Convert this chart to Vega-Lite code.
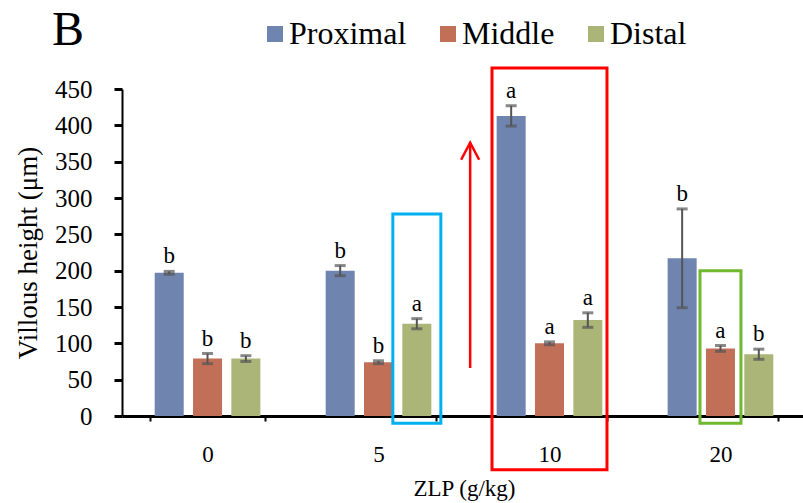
{
  "$schema": "https://vega.github.io/schema/vega-lite/v6.json",
  "autosize": {"type": "none"},
  "padding": {"left": 122, "top": 89, "right": 0, "bottom": 87},
  "width": 684,
  "height": 327,
  "background": "white",
  "title": {"text": "B", "anchor": "start", "frame": "group", "dx": -70, "offset": -37, "fontSize": 48, "font": "Liberation Serif", "fontWeight": "normal", "color": "black"},
  "config": {
    "view": {"stroke": null},
    "font": "Liberation Serif",
    "axisY": {"titleFontSize": 27, "titleFontWeight": "normal", "titleColor": "black", "titlePadding": 12,
              "tickCount": 9, "labelOverlap": false, "labelFontSize": 25, "labelColor": "black", "labelPadding": 22,
              "domainColor": "black", "domainWidth": 2, "grid": false},
    "axisX": {"titleFontSize": 23, "titleFontWeight": "normal", "titleColor": "black", "titlePadding": 11,
              "labelAngle": 0, "labelFontSize": 23, "labelColor": "black", "labelPadding": 22,
              "domainColor": "black", "domainWidth": 3, "grid": false}
  },
  "datasets": {
    "bars": [
      {"zlp": "0", "segment": "Proximal", "mean": 197, "sd": 2, "sig": "b"},
      {"zlp": "0", "segment": "Middle", "mean": 79, "sd": 7, "sig": "b"},
      {"zlp": "0", "segment": "Distal", "mean": 79, "sd": 4, "sig": "b"},
      {"zlp": "5", "segment": "Proximal", "mean": 200, "sd": 7, "sig": "b"},
      {"zlp": "5", "segment": "Middle", "mean": 74, "sd": 2, "sig": "b"},
      {"zlp": "5", "segment": "Distal", "mean": 127, "sd": 7, "sig": "a"},
      {"zlp": "10", "segment": "Proximal", "mean": 413, "sd": 14, "sig": "a"},
      {"zlp": "10", "segment": "Middle", "mean": 100, "sd": 2, "sig": "a"},
      {"zlp": "10", "segment": "Distal", "mean": 132, "sd": 10, "sig": "a"},
      {"zlp": "20", "segment": "Proximal", "mean": 217, "sd": 68, "sig": "b"},
      {"zlp": "20", "segment": "Middle", "mean": 93, "sd": 4, "sig": "a"},
      {"zlp": "20", "segment": "Distal", "mean": 85, "sd": 7, "sig": "b"}
    ],
    "groupbox": [{"zlp": "10", "top": 479, "bottom": -74}],
    "bluebox": [{"zlp": "5", "segment": "Distal", "top": 278, "bottom": -10}],
    "greenbox": [{"zlp": "20", "segment": "Middle", "top": 200, "bottom": -10}],
    "arrow": [{"zlp": "10", "from": 66, "to": 376}]
  },
  "layer": [
    {
      "data": {"name": "bars"},
      "mark": {"type": "bar"},
      "encoding": {
        "x": {"field": "zlp", "type": "nominal", "sort": ["0", "5", "10", "20"],
              "scale": {"paddingInner": 0.3275, "paddingOuter": 0.164},
              "axis": {"title": "ZLP (g/kg)", "ticks": true, "tickBand": "extent", "tickSize": 5, "tickWidth": 2, "tickColor": "black"}},
        "xOffset": {"field": "segment", "type": "nominal", "sort": ["Proximal", "Middle", "Distal"],
                    "scale": {"paddingInner": 0.243, "paddingOuter": 0.1215}},
        "y": {"field": "mean", "type": "quantitative",
              "scale": {"domain": [0, 450], "nice": false},
              "axis": {"title": "Villous height (μm)", "ticks": true, "tickSize": 8, "tickWidth": 3, "tickColor": "black"}},
        "color": {"field": "segment", "type": "nominal", "sort": ["Proximal", "Middle", "Distal"],
                  "scale": {"domain": ["Proximal", "Middle", "Distal"], "range": ["#6F84AE", "#C26F58", "#AAB577"]},
                  "legend": {"title": null, "orient": "none", "direction": "horizontal", "legendX": 137, "legendY": -71,
                             "symbolType": "square", "symbolSize": 256, "symbolStrokeWidth": 0,
                             "labelFontSize": 32, "labelColor": "black", "labelOffset": -2, "columnPadding": 25}}
      }
    },
    {
      "data": {"name": "bars"},
      "transform": [{"calculate": "datum.mean - datum.sd", "as": "lo"}, {"calculate": "datum.mean + datum.sd", "as": "hi"}],
      "layer": [
        {
          "mark": {"type": "rule", "color": "#555555", "strokeWidth": 2},
          "encoding": {
            "x": {"field": "zlp", "type": "nominal", "sort": ["0", "5", "10", "20"]},
            "xOffset": {"field": "segment", "type": "nominal", "sort": ["Proximal", "Middle", "Distal"]},
            "y": {"field": "lo", "type": "quantitative"},
            "y2": {"field": "hi"}
          }
        },
        {
          "mark": {"type": "tick", "color": "#555555", "thickness": 3, "size": 11, "orient": "horizontal"},
          "encoding": {
            "x": {"field": "zlp", "type": "nominal", "sort": ["0", "5", "10", "20"]},
            "xOffset": {"field": "segment", "type": "nominal", "sort": ["Proximal", "Middle", "Distal"]},
            "y": {"field": "lo", "type": "quantitative"}
          }
        },
        {
          "mark": {"type": "tick", "color": "#555555", "thickness": 3, "size": 11, "orient": "horizontal"},
          "encoding": {
            "x": {"field": "zlp", "type": "nominal", "sort": ["0", "5", "10", "20"]},
            "xOffset": {"field": "segment", "type": "nominal", "sort": ["Proximal", "Middle", "Distal"]},
            "y": {"field": "hi", "type": "quantitative"}
          }
        },
        {
          "mark": {"type": "text", "fontSize": 23, "color": "black", "baseline": "alphabetic", "dy": -8},
          "encoding": {
            "x": {"field": "zlp", "type": "nominal", "sort": ["0", "5", "10", "20"]},
            "xOffset": {"field": "segment", "type": "nominal", "sort": ["Proximal", "Middle", "Distal"]},
            "y": {"field": "hi", "type": "quantitative"},
            "text": {"field": "sig"}
          }
        }
      ]
    },
    {
      "data": {"name": "groupbox"},
      "mark": {"type": "bar", "filled": false, "stroke": "#FF0000", "strokeWidth": 3, "clip": false},
      "encoding": {
        "x": {"field": "zlp", "type": "nominal", "sort": ["0", "5", "10", "20"]},
        "y": {"field": "top", "type": "quantitative"},
        "y2": {"field": "bottom"}
      }
    },
    {
      "data": {"name": "bluebox"},
      "mark": {"type": "bar", "filled": false, "stroke": "#00B0F0", "strokeWidth": 3, "width": 48},
      "encoding": {
        "x": {"field": "zlp", "type": "nominal", "sort": ["0", "5", "10", "20"]},
        "xOffset": {"field": "segment", "type": "nominal", "sort": ["Proximal", "Middle", "Distal"]},
        "y": {"field": "top", "type": "quantitative"},
        "y2": {"field": "bottom"}
      }
    },
    {
      "data": {"name": "greenbox"},
      "mark": {"type": "bar", "filled": false, "stroke": "#70B830", "strokeWidth": 3, "width": 41},
      "encoding": {
        "x": {"field": "zlp", "type": "nominal", "sort": ["0", "5", "10", "20"]},
        "xOffset": {"field": "segment", "type": "nominal", "sort": ["Proximal", "Middle", "Distal"]},
        "y": {"field": "top", "type": "quantitative"},
        "y2": {"field": "bottom"}
      }
    },
    {
      "data": {"name": "arrow"},
      "layer": [
        {
          "mark": {"type": "rule", "color": "#FF0000", "strokeWidth": 2.5},
          "encoding": {
            "x": {"field": "zlp", "type": "nominal", "sort": ["0", "5", "10", "20"], "bandPosition": -0.19},
            "y": {"field": "from", "type": "quantitative"},
            "y2": {"field": "to"}
          }
        },
        {
          "mark": {"type": "point", "shape": "M-0.9,1.7L0,0L0.9,1.7", "size": 400, "filled": false, "stroke": "#FF0000", "strokeWidth": 2.5, "opacity": 1},
          "encoding": {
            "x": {"field": "zlp", "type": "nominal", "sort": ["0", "5", "10", "20"], "bandPosition": -0.19},
            "y": {"field": "to", "type": "quantitative"}
          }
        }
      ]
    }
  ]
}
